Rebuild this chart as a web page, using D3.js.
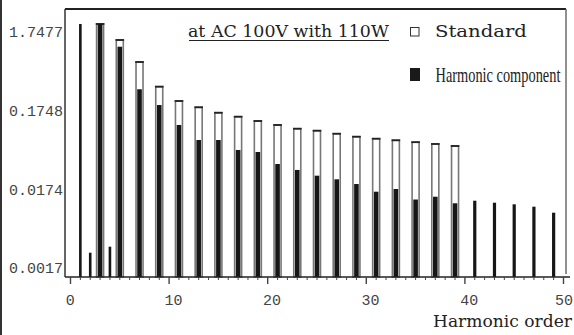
<!DOCTYPE html>
<html>
<head>
<meta charset="utf-8">
<script src="https://cdn.jsdelivr.net/npm/d3@7"></script>
<style>
  html, body { margin: 0; padding: 0; background: #fff; }
  svg { display: block; }
</style>
</head>
<body>
<svg id="chart" width="574" height="335"></svg>
<script>
// Harmonic current spectrum (A, log scale) against the limit values
const harmonicOrders = [1, 2, 3, 4, 5, 7, 9, 11, 13, 15, 17, 19, 21, 23, 25, 27, 29, 31, 33, 35, 37, 39, 41, 43, 45, 47, 49];
const harmonicValues = [2.23, 0.00276, 2.23, 0.00329, 1.147, 0.330, 0.208, 0.116, 0.0747, 0.0747, 0.0558, 0.0526, 0.0370, 0.0311, 0.0263, 0.02365, 0.0206, 0.01645, 0.0178, 0.01309, 0.01421, 0.01172, 0.01264, 0.01192, 0.01138, 0.01061, 0.0089];

const standardOrders = [3, 5, 7, 9, 11, 13, 15, 17, 19, 21, 23, 25, 27, 29, 31, 33, 35, 37, 39];
const standardValues = [2.23, 1.395, 0.733, 0.356, 0.234, 0.1946, 0.166, 0.1478, 0.1303, 0.116, 0.104, 0.0981, 0.0898, 0.0823, 0.0776, 0.0741, 0.0701, 0.0665, 0.0627];

const yTickValues = [1.7477, 0.17477, 0.017477, 0.0017477];
const yTickLabels = ["1.7477", "0.1748", "0.0174", "0.0017"];
const xTickValues = [0, 10, 20, 30, 40, 50];

const svg = d3.select("#chart");

const x = d3.scaleLinear().domain([0, 50]).range([70.5, 563.5]);
const y = d3.scaleLog().domain([0.001355, 3.457]).range([277, 9]);
const yBase = y.range()[0];

// places a text at (px, py) and stretches it horizontally to the given width
function fittedText(str, px, py, width, family, size) {
  const g = svg.append("g");
  const t = g.append("text")
    .attr("font-family", family)
    .attr("font-size", size)
    .attr("fill", "#222")
    .text(str);
  const natural = t.node().getComputedTextLength();
  g.attr("transform", `translate(${px},${py}) scale(${width / natural},1)`);
  return t;
}

// outer border on the left edge
svg.append("line")
  .attr("x1", 1).attr("x2", 1).attr("y1", 0).attr("y2", 335)
  .attr("stroke", "#333").attr("stroke-width", 2);

// plot frame
svg.append("line").attr("x1", 65).attr("x2", 566).attr("y1", 9).attr("y2", 9)
  .attr("stroke", "#222").attr("stroke-width", 2);
svg.append("line").attr("x1", 65).attr("x2", 65).attr("y1", 9).attr("y2", 277)
  .attr("stroke", "#333").attr("stroke-width", 1.5);
svg.append("line").attr("x1", 566).attr("x2", 566).attr("y1", 9).attr("y2", 274)
  .attr("stroke", "#555").attr("stroke-width", 1.3);

// limit bars (white with outline)
const stdW = 7;
const std = svg.append("g");
standardOrders.forEach((o, i) => {
  const v = standardValues[i];
  std.append("rect")
    .attr("x", x(o) - stdW / 2)
    .attr("y", y(v))
    .attr("width", stdW)
    .attr("height", yBase - y(v))
    .attr("fill", "#fff")
    .attr("stroke", "#777")
    .attr("stroke-width", 1.6);
  std.append("line")
    .attr("x1", x(o) - stdW / 2 - 0.8).attr("x2", x(o) + stdW / 2 + 0.8)
    .attr("y1", y(v)).attr("y2", y(v))
    .attr("stroke", "#222").attr("stroke-width", 1.8);
});

// measured harmonic components (black)
const harm = svg.append("g");
harmonicOrders.forEach((o, i) => {
  const v = harmonicValues[i];
  const inside = standardOrders.includes(o);
  const w = inside ? 4.6 : (o < 5 ? 2.6 : 3.2);
  harm.append("rect")
    .attr("x", x(o) - w / 2)
    .attr("y", y(v))
    .attr("width", w)
    .attr("height", yBase - y(v))
    .attr("fill", "#161616");
});

// x axis with a tick at every order
const xAxis = svg.append("g");
xAxis.append("line")
  .attr("x1", 65).attr("x2", 570).attr("y1", yBase).attr("y2", yBase)
  .attr("stroke", "#222").attr("stroke-width", 1.6);
d3.range(0, 51).forEach(n => {
  const major = n % 10 === 0;
  xAxis.append("line")
    .attr("x1", x(n)).attr("x2", x(n))
    .attr("y1", yBase).attr("y2", yBase + (major ? 7 : 3))
    .attr("stroke", "#444").attr("stroke-width", major ? 1.4 : 1);
});
xAxis.selectAll("text.xt")
  .data(xTickValues)
  .join("text")
  .attr("class", "xt")
  .attr("x", d => Math.min(x(d) - 4.7, 555))
  .attr("y", 305)
  .attr("font-family", "Liberation Mono, DejaVu Sans Mono, monospace")
  .attr("font-size", 15)
  .attr("fill", "#444")
  .text(d => d);

// y tick labels
svg.selectAll("text.yt")
  .data(yTickValues)
  .join("text")
  .attr("class", "yt")
  .attr("x", 63)
  .attr("y", d => y(d) + 5)
  .attr("text-anchor", "end")
  .attr("font-family", "Liberation Mono, DejaVu Sans Mono, monospace")
  .attr("font-size", 15)
  .attr("fill", "#444")
  .text((d, i) => yTickLabels[i]);

// caption and legend
fittedText("at AC 100V with 110W", 188, 36.5, 201, "DejaVu Serif, serif", 17.5);
svg.append("line")
  .attr("x1", 189).attr("x2", 389).attr("y1", 40.5).attr("y2", 40.5)
  .attr("stroke", "#222").attr("stroke-width", 1.2);

svg.append("rect")
  .attr("x", 410.5).attr("y", 27.5).attr("width", 8.5).attr("height", 8.5)
  .attr("fill", "#fff").attr("stroke", "#333").attr("stroke-width", 1);
fittedText("Standard", 435, 36.5, 92, "DejaVu Serif, serif", 17.5);

svg.append("rect")
  .attr("x", 410).attr("y", 68).attr("width", 10).attr("height", 13)
  .attr("fill", "#1a1a1a");
fittedText("Harmonic component", 435.5, 81.5, 125, "Liberation Serif, serif", 20);

fittedText("Harmonic order", 433, 326.5, 139, "DejaVu Serif, serif", 17.5);
</script>
</body>
</html>
